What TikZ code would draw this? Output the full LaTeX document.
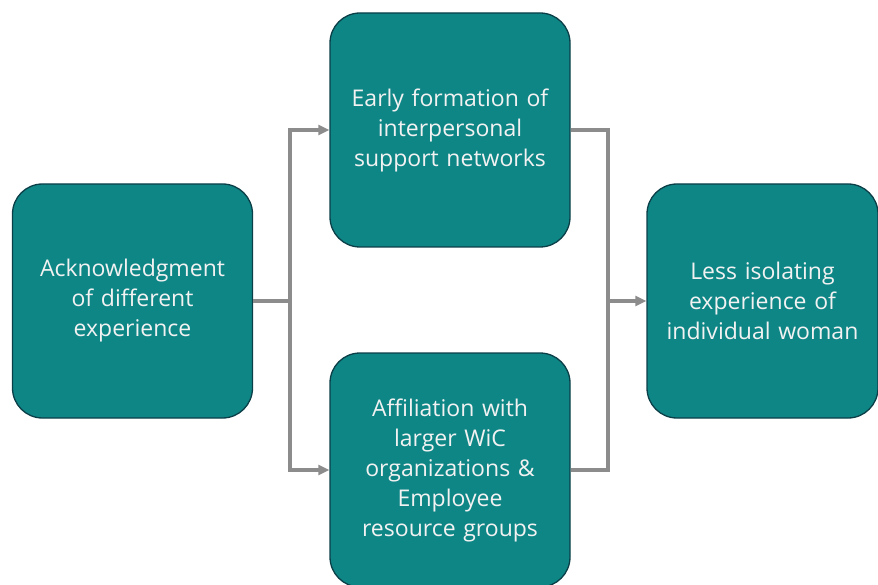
\documentclass[tikz,border=0pt]{standalone}
\usepackage{fontspec}
\setmainfont{Open Sans}
\usetikzlibrary{arrows.meta}
\definecolor{tealfill}{HTML}{0F8686}
\definecolor{tealedge}{HTML}{0B3F48}
\definecolor{linkgray}{HTML}{8C8C8C}
\definecolor{textwhite}{HTML}{F2F2F2}
\begin{document}
\begin{tikzpicture}[x=1pt,y=-1pt,
  card/.style={draw=tealedge, line width=1.3pt, fill=tealfill, rounded corners=30pt,
    minimum width=240pt, minimum height=234pt, inner sep=0pt,
    text=textwhite, align=center, text width=240pt,
    font=\fontsize{23}{30}\selectfont},
  link/.style={draw=linkgray, line width=3.2pt},
  tip/.style={-{Triangle[length=11pt,width=10pt]}}]
\useasboundingbox (0,0) rectangle (878,585);
\node[card] (ack) at (132.5,301) {Acknowledgment\\of different\\experience};
\node[card] (early) at (450,130) {Early formation of\\interpersonal\\support networks};
\node[card] (affil) at (450,470) {Affiliation with\\larger WiC\\organizations \&\\Employee\\resource groups};
\node[card, minimum width=231pt, text width=231pt] (less) at (762.5,301) {Less isolating\\experience of\\individual woman};
% split from the first card
\coordinate (fork) at (290,301);
\draw[link] (ack.east) -- (fork);
\draw[link, tip] (fork) |- (early.west);
\draw[link, tip] (fork) |- (affil.west);
% join into the last card
\coordinate (join) at (608,301);
\draw[link] (early.east) -| (join);
\draw[link] (affil.east) -| (join);
\draw[link, tip] (join) -- (less.west);
\end{tikzpicture}
\end{document}
